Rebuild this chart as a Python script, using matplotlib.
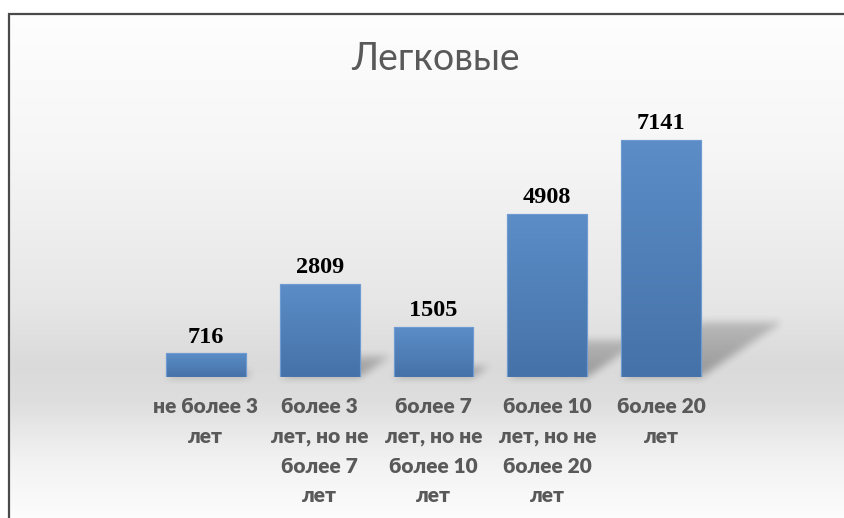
import numpy as np
import matplotlib
matplotlib.use("Agg")
import matplotlib.pyplot as plt
from matplotlib.patches import Rectangle

# passenger cars by age group
categories = ["не более 3\nлет",
              "более 3\nлет, но не\nболее 7\nлет",
              "более 7\nлет, но не\nболее 10\nлет",
              "более 10\nлет, но не\nболее 20\nлет",
              "более 20\nлет"]
values = [716, 2809, 1505, 4908, 7141]
title = "Легковые"

W, H = 845, 518
DPI = 100


def box_blur(img, r):
    k = np.ones(2 * r + 1) / (2 * r + 1)
    img = np.apply_along_axis(lambda m: np.convolve(m, k, mode="same"), 0, img)
    img = np.apply_along_axis(lambda m: np.convolve(m, k, mode="same"), 1, img)
    return img


fig = plt.figure(figsize=(W / DPI, H / DPI), dpi=DPI)
fig.patch.set_facecolor("white")

# background layer covering the whole figure, in pixel coordinates (y down)
bg = fig.add_axes([0, 0, 1, 1], zorder=0)
bg.set_xlim(0, W)
bg.set_ylim(H, 0)
bg.axis("off")

ys = np.arange(H)
stops_y = [13, 150, 300, 365, 400, 460, 518]
stops_v = [0.995, 0.965, 0.905, 0.855, 0.87, 0.95, 0.99]
col = np.interp(ys, stops_y, stops_v)
grad = np.repeat(col[:, None], W, axis=1)
bg.imshow(np.dstack([grad, grad, grad]), extent=(0, W, H, 0), aspect="auto",
          interpolation="bilinear", zorder=0)
bg.add_patch(Rectangle((0, 0), W, 12, color="white", zorder=1))
bg.add_patch(Rectangle((0, 0), 9, H, color="white", zorder=1))
bg.plot([9.5, 9.5, W + 5], [H + 5, 13.5, 13.5], color="#4a4a4a", lw=1.6,
        solid_joinstyle="miter", zorder=2)

# main bar axes
ax = fig.add_axes([149 / W, (H - 377) / H, 569 / W, 265.6 / H], zorder=2)
ax.patch.set_alpha(0)
x = np.arange(len(values))
width = 0.7
ax.set_xlim(-0.5, len(values) - 0.5)
ax.set_ylim(0, 8000)
for s in ax.spines.values():
    s.set_visible(False)
ax.set_yticks([])
ax.tick_params(axis="x", length=0, pad=14.5)
ax.set_xticks(x)
ax.set_xticklabels(categories, fontfamily="Lato", fontweight="heavy",
                   fontsize=15, color="#595959", linespacing=1.66)

# soft perspective shadows behind the bars
shadow = np.zeros((H, W))
X, Y = np.meshgrid(np.arange(W) + 0.5, np.arange(H) + 0.5)
for xi, v in zip(x, values):
    (xl, yb), (xr, yt) = ax.transData.transform([(xi - width / 2, 0), (xi + width / 2, v)])
    yb_px, yt_px = H - yb, H - yt
    hpx = yb_px - yt_px
    sh = 0.23 * hpx
    dx = 0.34 * hpx
    t = (yb_px - Y) / sh
    inside = (t >= 0) & (t <= 1) & (X >= xl + t * dx) & (X <= xr + t * dx)
    shadow = np.maximum(shadow, np.where(inside, 1 - 0.4 * t, 0))
shadow = box_blur(box_blur(shadow, 4), 4)
shade = np.zeros((H, W, 4))
shade[..., 3] = 0.3 * shadow
bg.imshow(shade, extent=(0, W, H, 0), aspect="auto", interpolation="bilinear", zorder=1.5)

# bars with a vertical blue gradient
bars = ax.bar(x, values, width=width, color="#5182bd", edgecolor="#7aa3d6", lw=0.8, zorder=2)
g = np.linspace(0, 1, 100)[:, None]
top_c = np.array([0x5c, 0x8d, 0xc7]) / 255
bot_c = np.array([0x45, 0x72, 0xa8]) / 255
bar_img = top_c * (1 - g[..., None]) + bot_c * g[..., None]
for b in bars:
    im = ax.imshow(bar_img, extent=(b.get_x(), b.get_x() + b.get_width(), 0, b.get_height()),
                   aspect="auto", interpolation="bilinear", zorder=2.5)
    im.set_clip_path(b)
    ax.add_patch(Rectangle((b.get_x(), 0), b.get_width(), b.get_height(), fill=False,
                           edgecolor="#6e9bd2", lw=0.8, zorder=3))
ax.set_xlim(-0.5, len(values) - 0.5)
ax.set_ylim(0, 8000)

for xi, v in zip(x, values):
    ax.annotate(str(v), (xi, v), xytext=(0, 4), textcoords="offset points",
                ha="center", va="bottom", fontfamily="Liberation Serif",
                fontweight="bold", fontsize=17.5, color="black", zorder=4)

fig.text(435 / W, 1 - 59 / H, title, ha="center", va="center", fontfamily="Lato",
         fontsize=27, color="#595959", zorder=3)

fig.savefig("out.png", dpi=DPI)
